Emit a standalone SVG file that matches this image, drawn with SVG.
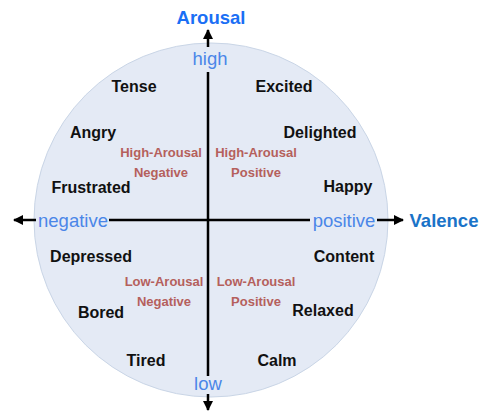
<svg xmlns="http://www.w3.org/2000/svg" width="486" height="412" viewBox="0 0 486 412">
<defs>
<marker id="ah" viewBox="0 0 10 10" refX="9" refY="5" markerWidth="4" markerHeight="4" orient="auto"><path d="M0,0 L10,5 L0,10 z" fill="#000"/></marker>
<style>
.em{font-family:"Liberation Sans",Arial,sans-serif;font-weight:bold;font-size:16px;fill:#111;text-anchor:middle}
.q{font-family:"Liberation Sans",Arial,sans-serif;font-weight:bold;font-size:13px;fill:#b5605c;text-anchor:middle}
.pole{font-family:"Liberation Sans",Arial,sans-serif;font-size:18.5px;fill:#4a86e8;text-anchor:middle}
.title{font-family:"Liberation Sans",Arial,sans-serif;font-weight:bold;font-size:18.5px;text-anchor:middle}
.ax{stroke:#000;stroke-width:2.5;fill:none}
</style>
</defs>
<rect width="486" height="412" fill="#fff"/>
<circle id="circle" cx="211" cy="220" r="177" fill="#e4eaf5" stroke="#c9d5e6" stroke-width="1"/>
<g id="connectors">
<line class="ax" x1="208" y1="47" x2="208" y2="30" marker-end="url(#ah)"/>
<line class="ax" x1="208" y1="72" x2="208" y2="376"/>
<line class="ax" x1="208" y1="394" x2="208" y2="410" marker-end="url(#ah)"/>
<line class="ax" x1="36" y1="220" x2="14" y2="220" marker-end="url(#ah)"/>
<line class="ax" x1="109" y1="220" x2="310" y2="220"/>
<line class="ax" x1="377" y1="220" x2="403" y2="220" marker-end="url(#ah)"/>
</g>
<g id="titles">
<text class="title" x="211" y="24" fill="#1a6ff5">Arousal</text>
<text class="title" x="444" y="227" fill="#1a73c8">Valence</text>
</g>
<g id="poles">
<text class="pole" x="210" y="65">high</text>
<text class="pole" x="208" y="390">low</text>
<text class="pole" x="73" y="227">negative</text>
<text class="pole" x="344" y="227">positive</text>
</g>
<g id="tense"><text class="em" x="134" y="92">Tense</text></g>
<g id="excited"><text class="em" x="284" y="92">Excited</text></g>
<g id="angry"><text class="em" x="93" y="138">Angry</text></g>
<g id="delighted"><text class="em" x="320" y="138">Delighted</text></g>
<g id="frustrated"><text class="em" x="91" y="193">Frustrated</text></g>
<g id="happy"><text class="em" x="348" y="192">Happy</text></g>
<g id="depressed"><text class="em" x="91" y="262">Depressed</text></g>
<g id="content"><text class="em" x="344" y="262">Content</text></g>
<g id="bored"><text class="em" x="101" y="318">Bored</text></g>
<g id="relaxed"><text class="em" x="323" y="316">Relaxed</text></g>
<g id="tired"><text class="em" x="146" y="366">Tired</text></g>
<g id="calm"><text class="em" x="277" y="366">Calm</text></g>
<g id="hanq"><text class="q" x="161" y="157">High-Arousal</text><text class="q" x="161" y="177">Negative</text></g>
<g id="hapq"><text class="q" x="256" y="157">High-Arousal</text><text class="q" x="256" y="177">Positive</text></g>
<g id="lanq"><text class="q" x="164" y="286">Low-Arousal</text><text class="q" x="164" y="306">Negative</text></g>
<g id="lapq"><text class="q" x="256" y="286">Low-Arousal</text><text class="q" x="256" y="306">Positive</text></g>
</svg>
